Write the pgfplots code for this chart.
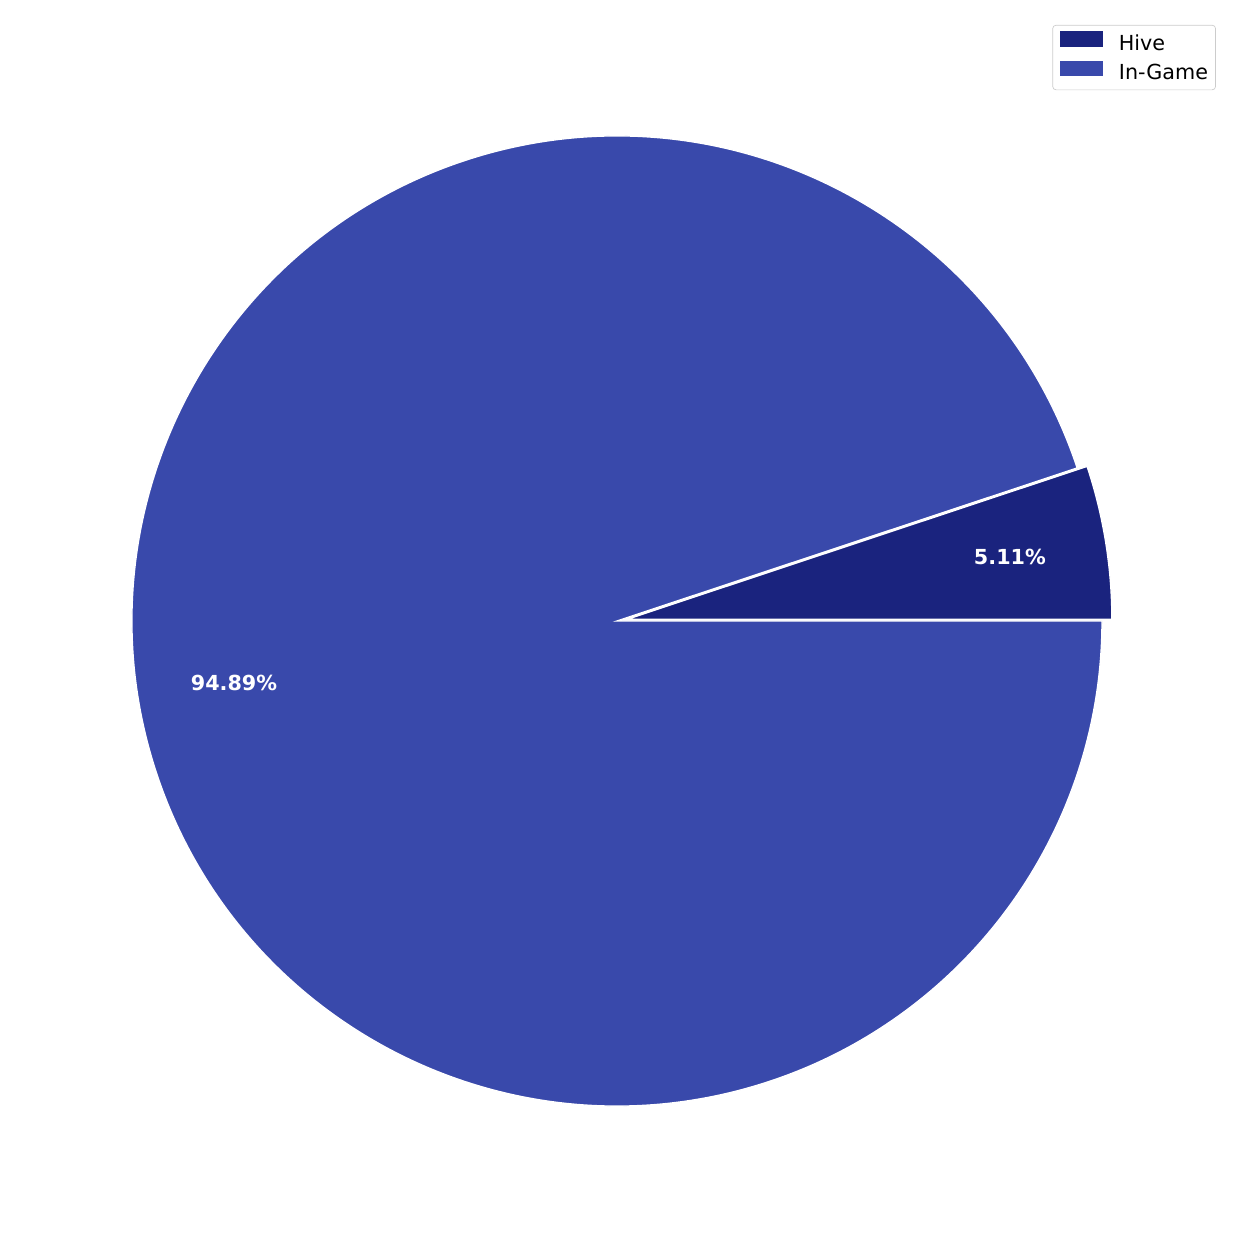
\documentclass[border=0pt]{standalone}
\usepackage{pgfplots}
\usepackage{pgfplotstable}
\usepackage{fontspec}
\setmainfont{DejaVu Sans}
\pgfplotsset{compat=1.18}

\definecolor{hive}{HTML}{1A237E}
\definecolor{ingame}{HTML}{3949AB}

\pgfplotstableread{
label value
Hive 5.11
In-Game 94.89
}\piedata

\pgfplotstablegetelem{0}{value}\of\piedata \let\vHive\pgfplotsretval
\pgfplotstablegetelem{1}{value}\of\piedata \let\vGame\pgfplotsretval
\pgfmathsetmacro\aHive{360*(\vHive/(\vHive+\vGame))}
\pgfmathsetmacro\mHive{\aHive/2}
\pgfmathsetmacro\mGame{\aHive+180*(\vGame/(\vHive+\vGame))}
% 1 px of the reference = 720/1242 pt
\def\R{281.16pt}
\def\ex{5.8pt}

\begin{document}
\begin{tikzpicture}
\begin{axis}[
    width=720pt, height=720pt, scale only axis,
    xmin=0, xmax=1242, ymin=0, ymax=1242,
    hide axis,
    legend style={at={(0.979,0.980)}, anchor=north east,
        draw=black!20, rounded corners=2pt,
        font=\fontsize{12}{14}\selectfont,
        inner xsep=4.4pt, inner ysep=3.4pt,
        nodes={inner sep=0pt, text height=9pt, text depth=2.5pt},
        row sep=3.6pt, column sep=9.6pt},
    legend cell align=left,
    /pgf/number format/assume math mode=true,
]
\path (rel axis cs:0,0) rectangle (rel axis cs:1,1);

% In-Game wedge
\fill[ingame, draw=white, line width=0.8pt]
    (axis cs:617,621) -- ++(\aHive:\R) arc[start angle=\aHive, end angle=360, radius=\R] -- cycle;
% Hive wedge, pulled out
\fill[hive, draw=white, line width=0.8pt]
    ([shift={(\mHive:\ex)}]axis cs:617,621) -- ++(0:\R) arc[start angle=0, end angle=\aHive, radius=\R] -- cycle;

\node[text=white, font=\bfseries\fontsize{12}{14}\selectfont]
    at ([shift={(\mHive:0.8*\R+\ex)}]axis cs:617,621)
    {\pgfmathprintnumber[fixed, precision=2, fixed zerofill]{\vHive}\%};
\node[text=white, font=\bfseries\fontsize{12}{14}\selectfont]
    at ([shift={(\mGame:0.8*\R)}]axis cs:617,621)
    {\pgfmathprintnumber[fixed, precision=2, fixed zerofill]{\vGame}\%};

\addlegendimage{legend image code/.code={\fill[hive, sharp corners] (0pt,-0.8pt) rectangle (24pt,7.6pt);}}
\addlegendentry{Hive}
\addlegendimage{legend image code/.code={\fill[ingame, sharp corners] (0pt,-0.8pt) rectangle (24pt,7.6pt);}}
\addlegendentry{In-Game}
\end{axis}
\end{tikzpicture}
\end{document}
